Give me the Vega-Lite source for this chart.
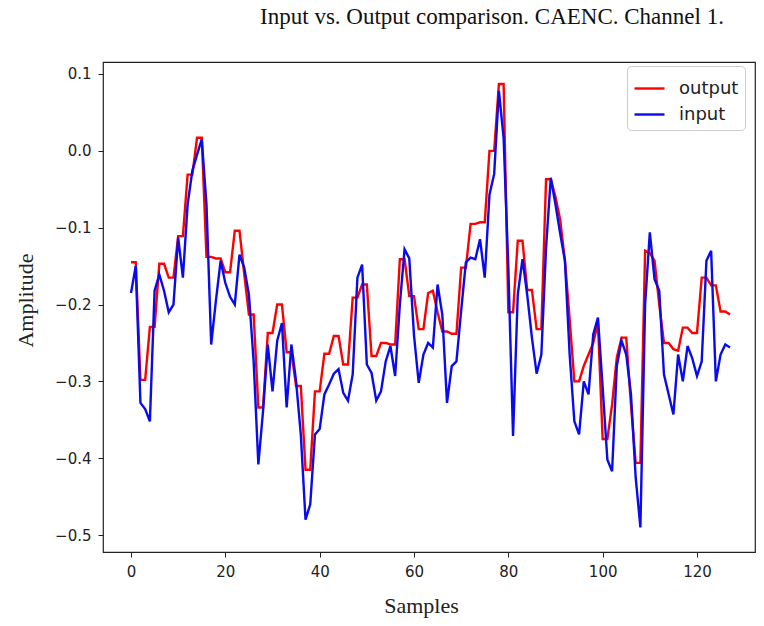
{
  "$schema": "https://vega.github.io/schema/vega-lite/v6.json",
  "width": 652,
  "height": 490,
  "autosize": {"type": "none"},
  "padding": {"left": 103, "right": 9, "top": 62, "bottom": 74},
  "background": "white",
  "title": {
    "text": "Input vs. Output comparison. CAENC. Channel 1.",
    "font": "Liberation Serif",
    "fontSize": 23,
    "fontWeight": "normal",
    "color": "#111",
    "anchor": "middle",
    "dx": 63,
    "offset": 33
  },
  "data": {
    "values": [
      {"i":0,"output":-0.145,"input":-0.185},
      {"i":1,"output":-0.145,"input":-0.150},
      {"i":2,"output":-0.298,"input":-0.328},
      {"i":3,"output":-0.298,"input":-0.336},
      {"i":4,"output":-0.229,"input":-0.352},
      {"i":5,"output":-0.229,"input":-0.182},
      {"i":6,"output":-0.147,"input":-0.161},
      {"i":7,"output":-0.147,"input":-0.182},
      {"i":8,"output":-0.165,"input":-0.210},
      {"i":9,"output":-0.165,"input":-0.200},
      {"i":10,"output":-0.111,"input":-0.113},
      {"i":11,"output":-0.111,"input":-0.165},
      {"i":12,"output":-0.031,"input":-0.070},
      {"i":13,"output":-0.031,"input":-0.026},
      {"i":14,"output":0.017,"input":-0.005},
      {"i":15,"output":0.017,"input":0.015},
      {"i":16,"output":-0.138,"input":-0.070},
      {"i":17,"output":-0.138,"input":-0.252},
      {"i":18,"output":-0.140,"input":-0.195},
      {"i":19,"output":-0.140,"input":-0.143},
      {"i":20,"output":-0.158,"input":-0.172},
      {"i":21,"output":-0.158,"input":-0.190},
      {"i":22,"output":-0.104,"input":-0.200},
      {"i":23,"output":-0.104,"input":-0.135},
      {"i":24,"output":-0.160,"input":-0.152},
      {"i":25,"output":-0.213,"input":-0.187},
      {"i":26,"output":-0.213,"input":-0.274},
      {"i":27,"output":-0.334,"input":-0.408},
      {"i":28,"output":-0.334,"input":-0.338},
      {"i":29,"output":-0.237,"input":-0.252},
      {"i":30,"output":-0.237,"input":-0.313},
      {"i":31,"output":-0.200,"input":-0.247},
      {"i":32,"output":-0.200,"input":-0.224},
      {"i":33,"output":-0.262,"input":-0.334},
      {"i":34,"output":-0.262,"input":-0.252},
      {"i":35,"output":-0.306,"input":-0.300},
      {"i":36,"output":-0.306,"input":-0.369},
      {"i":37,"output":-0.415,"input":-0.480},
      {"i":38,"output":-0.415,"input":-0.460},
      {"i":39,"output":-0.313,"input":-0.369},
      {"i":40,"output":-0.313,"input":-0.362},
      {"i":41,"output":-0.264,"input":-0.317},
      {"i":42,"output":-0.264,"input":-0.304},
      {"i":43,"output":-0.241,"input":-0.290},
      {"i":44,"output":-0.241,"input":-0.284},
      {"i":45,"output":-0.278,"input":-0.315},
      {"i":46,"output":-0.278,"input":-0.325},
      {"i":47,"output":-0.191,"input":-0.291},
      {"i":48,"output":-0.191,"input":-0.165},
      {"i":49,"output":-0.174,"input":-0.148},
      {"i":50,"output":-0.174,"input":-0.278},
      {"i":51,"output":-0.267,"input":-0.289},
      {"i":52,"output":-0.267,"input":-0.325},
      {"i":53,"output":-0.250,"input":-0.313},
      {"i":54,"output":-0.250,"input":-0.274},
      {"i":55,"output":-0.252,"input":-0.254},
      {"i":56,"output":-0.252,"input":-0.293},
      {"i":57,"output":-0.141,"input":-0.200},
      {"i":58,"output":-0.141,"input":-0.128},
      {"i":59,"output":-0.189,"input":-0.140},
      {"i":60,"output":-0.189,"input":-0.240},
      {"i":61,"output":-0.232,"input":-0.302},
      {"i":62,"output":-0.232,"input":-0.265},
      {"i":63,"output":-0.185,"input":-0.250},
      {"i":64,"output":-0.182,"input":-0.256},
      {"i":65,"output":-0.210,"input":-0.174},
      {"i":66,"output":-0.235,"input":-0.213},
      {"i":67,"output":-0.235,"input":-0.328},
      {"i":68,"output":-0.238,"input":-0.280},
      {"i":69,"output":-0.238,"input":-0.274},
      {"i":70,"output":-0.152,"input":-0.208},
      {"i":71,"output":-0.152,"input":-0.145},
      {"i":72,"output":-0.095,"input":-0.139},
      {"i":73,"output":-0.095,"input":-0.141},
      {"i":74,"output":-0.093,"input":-0.115},
      {"i":75,"output":-0.093,"input":-0.165},
      {"i":76,"output":0.000,"input":-0.057},
      {"i":77,"output":0.000,"input":-0.030},
      {"i":78,"output":0.087,"input":0.078},
      {"i":79,"output":0.087,"input":0.017},
      {"i":80,"output":-0.210,"input":-0.152},
      {"i":81,"output":-0.210,"input":-0.371},
      {"i":82,"output":-0.117,"input":-0.187},
      {"i":83,"output":-0.117,"input":-0.141},
      {"i":84,"output":-0.181,"input":-0.187},
      {"i":85,"output":-0.181,"input":-0.243},
      {"i":86,"output":-0.232,"input":-0.290},
      {"i":87,"output":-0.232,"input":-0.265},
      {"i":88,"output":-0.037,"input":-0.126},
      {"i":89,"output":-0.037,"input":-0.035},
      {"i":90,"output":-0.060,"input":-0.070},
      {"i":91,"output":-0.090,"input":-0.108},
      {"i":92,"output":-0.143,"input":-0.143},
      {"i":93,"output":-0.219,"input":-0.265},
      {"i":94,"output":-0.300,"input":-0.352},
      {"i":95,"output":-0.300,"input":-0.369},
      {"i":96,"output":-0.280,"input":-0.300},
      {"i":97,"output":-0.265,"input":-0.317},
      {"i":98,"output":-0.250,"input":-0.239},
      {"i":99,"output":-0.224,"input":-0.217},
      {"i":100,"output":-0.375,"input":-0.308},
      {"i":101,"output":-0.375,"input":-0.402},
      {"i":102,"output":-0.330,"input":-0.417},
      {"i":103,"output":-0.269,"input":-0.280},
      {"i":104,"output":-0.243,"input":-0.247},
      {"i":105,"output":-0.243,"input":-0.265},
      {"i":106,"output":-0.330,"input":-0.317},
      {"i":107,"output":-0.406,"input":-0.425},
      {"i":108,"output":-0.406,"input":-0.490},
      {"i":109,"output":-0.130,"input":-0.200},
      {"i":110,"output":-0.133,"input":-0.106},
      {"i":111,"output":-0.143,"input":-0.167},
      {"i":112,"output":-0.200,"input":-0.182},
      {"i":113,"output":-0.250,"input":-0.291},
      {"i":114,"output":-0.250,"input":-0.317},
      {"i":115,"output":-0.258,"input":-0.343},
      {"i":116,"output":-0.260,"input":-0.265},
      {"i":117,"output":-0.230,"input":-0.300},
      {"i":118,"output":-0.230,"input":-0.254},
      {"i":119,"output":-0.237,"input":-0.270},
      {"i":120,"output":-0.237,"input":-0.293},
      {"i":121,"output":-0.165,"input":-0.274},
      {"i":122,"output":-0.165,"input":-0.143},
      {"i":123,"output":-0.175,"input":-0.130},
      {"i":124,"output":-0.175,"input":-0.300},
      {"i":125,"output":-0.209,"input":-0.265},
      {"i":126,"output":-0.209,"input":-0.252},
      {"i":127,"output":-0.213,"input":-0.256}
    ]
  },
  "transform": [{"fold": ["output", "input"], "as": ["series", "value"]}],
  "mark": {"type": "line", "strokeWidth": 2.4, "clip": true},
  "encoding": {
    "x": {
      "field": "i",
      "type": "quantitative",
      "scale": {"domain": [-5.94, 132.3], "nice": false, "zero": false},
      "axis": {
        "title": "Samples",
        "values": [0, 20, 40, 60, 80, 100, 120],
        "format": "d",
        "titleX": 318,
        "titleY": 53,
        "titleBaseline": "middle"
      }
    },
    "y": {
      "field": "value",
      "type": "quantitative",
      "scale": {"domain": [-0.522, 0.1156], "nice": false, "zero": false},
      "axis": {
        "title": "Amplitude",
        "values": [-0.5, -0.4, -0.3, -0.2, -0.1, 0, 0.1],
        "format": ".1f",
        "titleX": -78,
        "titleY": 238,
        "titleBaseline": "middle",
        "titleAlign": "center"
      }
    },
    "color": {
      "field": "series",
      "type": "nominal",
      "scale": {"domain": ["output", "input"], "range": ["#ff0000", "#0a0aef"]},
      "legend": {
        "title": null,
        "orient": "none",
        "legendX": 524,
        "legendY": 4,
        "symbolType": "stroke",
        "symbolSize": 900,
        "symbolStrokeWidth": 2.4,
        "labelFont": "DejaVu Sans",
        "labelFontSize": 18,
        "labelColor": "#222",
        "labelOffset": 13,
        "rowPadding": 0,
        "padding": 6,
        "strokeColor": "#cccccc",
        "fillColor": "white",
        "cornerRadius": 4
      }
    }
  },
  "config": {
    "view": {"stroke": "#222", "strokeWidth": 1.2},
    "axis": {
      "grid": false,
      "domain": false,
      "ticks": true,
      "tickSize": 5,
      "tickColor": "#222",
      "labelFont": "DejaVu Sans",
      "labelFontSize": 15,
      "labelColor": "#222",
      "labelPadding": 7,
      "titleFont": "Liberation Serif",
      "titleFontSize": 22,
      "titleFontWeight": "normal",
      "titleColor": "#222"
    }
  }
}
